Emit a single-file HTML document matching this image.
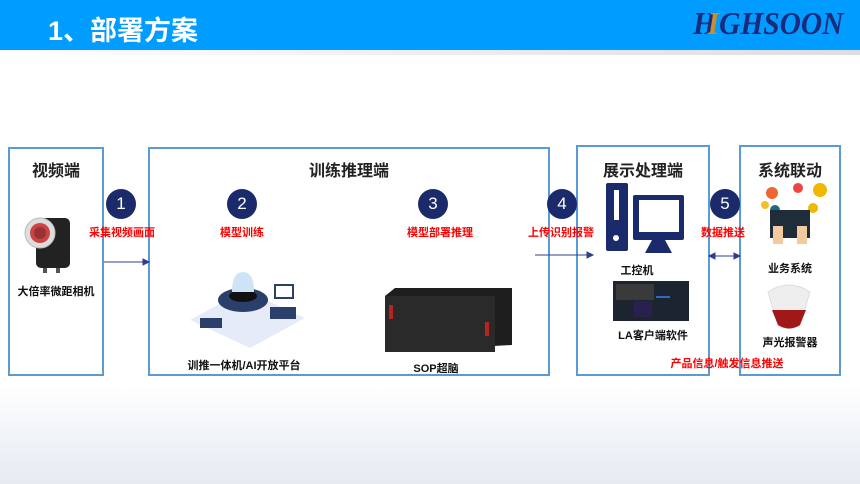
<!DOCTYPE html>
<html><head><meta charset="utf-8"><style>
*{margin:0;padding:0;box-sizing:border-box}
body{width:860px;height:484px;overflow:hidden;position:relative;font-family:"Liberation Sans","Noto Sans CJK SC",sans-serif;background:linear-gradient(180deg,#fff 0%,#fff 80%,#f1f4f8 90%,#e6ebf2 100%)}
.a{position:absolute}
.hdr{left:0;top:0;width:860px;height:50px;background:#009cff}
.sh{left:0;top:50px;width:860px;height:5px;background:linear-gradient(90deg,#fff,#ddd)}
.box{position:absolute;border:2px solid #5b9bd5}
.t{position:absolute;font-weight:bold;font-size:16px;color:#222;text-align:center;white-space:nowrap}
.c{position:absolute;width:30px;height:30px;border-radius:50%;background:#1b2a6b;color:#fff;font-size:17px;text-align:center;line-height:30px}
.r{position:absolute;color:#f00;font-weight:bold;font-size:11px;white-space:nowrap;transform:translateX(-50%)}
.l{position:absolute;font-weight:bold;font-size:11px;color:#111;white-space:nowrap;transform:translateX(-50%)}
</style></head><body>
<div class="a hdr"></div><div class="a sh"></div>
<div class="a" style="left:48px;top:9px;color:#fff;font-size:27px;font-weight:bold">1、部署方案</div>
<div class="a" style="left:693px;top:5px;font-family:'Liberation Serif',serif;font-style:italic;font-weight:bold;font-size:32px;color:#1b2a7b;transform:scaleX(0.92);transform-origin:left top;white-space:nowrap">H<span style="color:#c8902a;margin-left:-9px">I</span>GHSOON</div>

<div class="box" style="left:8px;top:147px;width:96px;height:229px"></div>
<div class="box" style="left:148px;top:147px;width:402px;height:229px"></div>
<div class="box" style="left:576px;top:145px;width:134px;height:231px"></div>
<div class="box" style="left:739px;top:145px;width:102px;height:231px"></div>

<div class="t" style="left:8px;width:96px;top:157px">视频端</div>
<div class="t" style="left:148px;width:402px;top:157px">训练推理端</div>
<div class="t" style="left:576px;width:134px;top:157px">展示处理端</div>
<div class="t" style="left:739px;width:102px;top:157px">系统联动</div>

<div class="c" style="left:106px;top:189px">1</div>
<div class="c" style="left:227px;top:189px">2</div>
<div class="c" style="left:418px;top:189px">3</div>
<div class="c" style="left:547px;top:189px">4</div>
<div class="c" style="left:710px;top:189px">5</div>

<div class="r" style="left:122px;top:224px">采集视频画面</div>
<div class="r" style="left:242px;top:224px">模型训练</div>
<div class="r" style="left:440px;top:224px">模型部署推理</div>
<div class="r" style="left:561px;top:224px">上传识别报警</div>
<div class="r" style="left:723px;top:224px">数据推送</div>
<div class="r" style="left:727px;top:355px">产品信息/触发信息推送</div>

<svg class="a" style="left:0;top:0" width="860" height="484">
<g stroke="#2f3f8f" stroke-width="1" fill="#2f3f8f">
<line x1="104" y1="262" x2="144" y2="262"/><polygon points="149,262 143,259 143,265"/>
<line x1="535" y1="255" x2="588" y2="255"/><polygon points="593,255 587,252 587,258"/>
<line x1="714" y1="256" x2="735" y2="256"/><polygon points="709,256 715,253 715,259"/><polygon points="740,256 734,253 734,259"/>
</g>
<rect x="36" y="218" width="34" height="50" rx="5" fill="#222"/>
<circle cx="40" cy="233" r="15" fill="#ddd" stroke="#bbb"/>
<circle cx="40" cy="233" r="10" fill="#c44"/>
<circle cx="40" cy="233" r="6" fill="#933"/>
<rect x="43" y="268" width="4" height="5" fill="#555"/><rect x="56" y="268" width="4" height="5" fill="#555"/>
<polygon points="190,320 245,290 305,318 250,348" fill="#e6ecf7"/>
<ellipse cx="243" cy="300" rx="25" ry="12" fill="#2a3f6a"/>
<ellipse cx="243" cy="296" rx="14" ry="6" fill="#111"/>
<path d="M232 292 Q232 272 243 272 Q254 272 254 292Z" fill="#cfe3f7"/>
<rect x="200" y="318" width="22" height="10" fill="#2a3f6a"/>
<rect x="270" y="307" width="26" height="12" fill="#2a3f6a"/>
<rect x="275" y="285" width="18" height="13" fill="#fff" stroke="#2a3f6a" stroke-width="2"/>
<polygon points="385,296 395,288 512,288 512,345 385,352" fill="#1e1e1e"/>
<rect x="385" y="296" width="110" height="56" fill="#2a2a2a"/>
<rect x="389" y="305" width="4" height="14" fill="#b22"/><rect x="485" y="322" width="4" height="14" fill="#b22"/>
<rect x="606" y="183" width="22" height="68" rx="2" fill="#1b2a6b"/>
<rect x="614" y="190" width="5" height="30" fill="#fff"/><circle cx="616" cy="238" r="3" fill="#fff"/>
<rect x="633" y="195" width="51" height="45" rx="2" fill="#1b2a6b"/>
<rect x="639" y="200" width="40" height="32" fill="#fff"/>
<polygon points="652,240 665,240 672,253 645,253" fill="#1b2a6b"/>
<rect x="613" y="281" width="76" height="40" fill="#1c2430"/>
<rect x="616" y="284" width="38" height="16" fill="#3a3a3a"/><rect x="656" y="296" width="14" height="2" fill="#36c"/>
<rect x="634" y="301" width="18" height="16" fill="#2a2050"/>
<circle cx="772" cy="193" r="6" fill="#e63"/><circle cx="798" cy="188" r="5" fill="#e44"/><circle cx="820" cy="190" r="7" fill="#f0b800"/><circle cx="813" cy="208" r="5" fill="#f0b800"/><circle cx="765" cy="205" r="4" fill="#f0c030"/><circle cx="775" cy="210" r="5" fill="#1b6b80"/>
<rect x="770" y="210" width="40" height="28" fill="#1f2d3a"/>
<rect x="773" y="226" width="10" height="18" fill="#f3c9a0"/><rect x="797" y="226" width="10" height="18" fill="#f3c9a0"/>
<path d="M768 292 Q789 278 810 292 L800 325 Q789 332 778 325Z" fill="#eee" stroke="#ddd"/>
<path d="M772 310 L806 310 L800 325 Q789 332 778 325Z" fill="#a01818"/>
</svg>

<div class="l" style="left:56px;top:283px">大倍率微距相机</div>
<div class="l" style="left:244px;top:357px">训推一体机/AI开放平台</div>
<div class="l" style="left:436px;top:360px">SOP超脑</div>
<div class="l" style="left:637px;top:262px">工控机</div>
<div class="l" style="left:653px;top:327px">LA客户端软件</div>
<div class="l" style="left:790px;top:260px">业务系统</div>
<div class="l" style="left:790px;top:334px">声光报警器</div>
</body></html>
